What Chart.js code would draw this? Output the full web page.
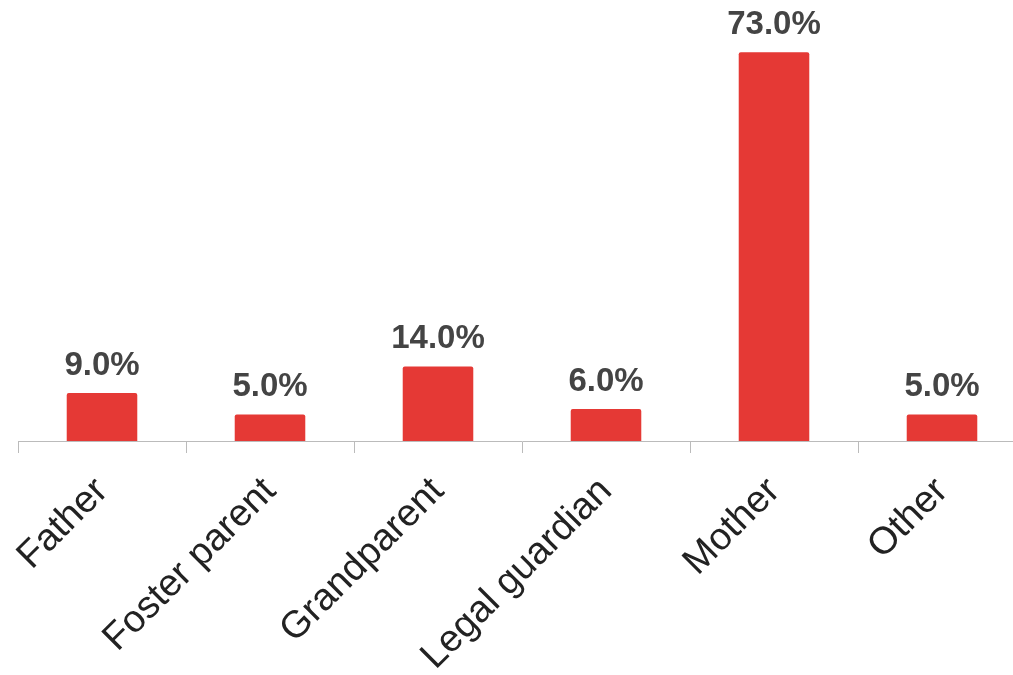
<!DOCTYPE html>
<html>
<head>
<meta charset="utf-8">
<script src="https://cdn.jsdelivr.net/npm/chart.js@4"></script>
<style>
  html, body { margin: 0; padding: 0; background: #fff; overflow: hidden; }
  #wrap { width: 1026px; height: 675px; overflow: hidden; }
</style>
</head>
<body>
<div id="wrap"><canvas id="ch" width="1026" height="675"></canvas></div>
<script>
const categories = ['Father', 'Foster parent', 'Grandparent', 'Legal guardian', 'Mother', 'Other'];
const shares = [9.0, 5.0, 14.0, 6.0, 73.0, 5.0];

// draws the value above each bar
const barLabels = {
  id: 'barLabels',
  afterDatasetsDraw(chart) {
    const ctx = chart.ctx;
    const meta = chart.getDatasetMeta(0);
    ctx.save();
    ctx.font = 'bold 33px "Liberation Sans", Arial, sans-serif';
    ctx.fillStyle = '#444';
    ctx.textAlign = 'center';
    ctx.textBaseline = 'bottom';
    meta.data.forEach((bar, i) => {
      ctx.fillText(shares[i].toFixed(1) + '%', bar.x, bar.y - 11);
    });
    ctx.restore();
  }
};

new Chart(document.getElementById('ch').getContext('2d'), {
  type: 'bar',
  data: {
    labels: categories,
    datasets: [{
      data: shares,
      backgroundColor: '#e53935',
      borderRadius: 2,
      borderSkipped: 'bottom',
      barPercentage: 0.42,
      categoryPercentage: 1
    }]
  },
  options: {
    responsive: false,
    animation: false,
    layout: { padding: { left: 18, right: 0, top: 15, bottom: 0 } },
    plugins: { legend: { display: false }, tooltip: { enabled: false } },
    scales: {
      x: {
        afterFit(scale) { scale.height = 234; },
        grid: { offset: true, drawOnChartArea: false, color: '#bbb', tickLength: 12 },
        border: { color: '#bbb' },
        ticks: {
          maxRotation: 45, minRotation: 45,
          padding: 16,
          color: '#222',
          font: { family: '"Liberation Sans", Arial, sans-serif', size: 38 }
        }
      },
      y: { display: false, min: 0, max: 80 }
    }
  },
  plugins: [barLabels]
});
</script>
</body>
</html>
